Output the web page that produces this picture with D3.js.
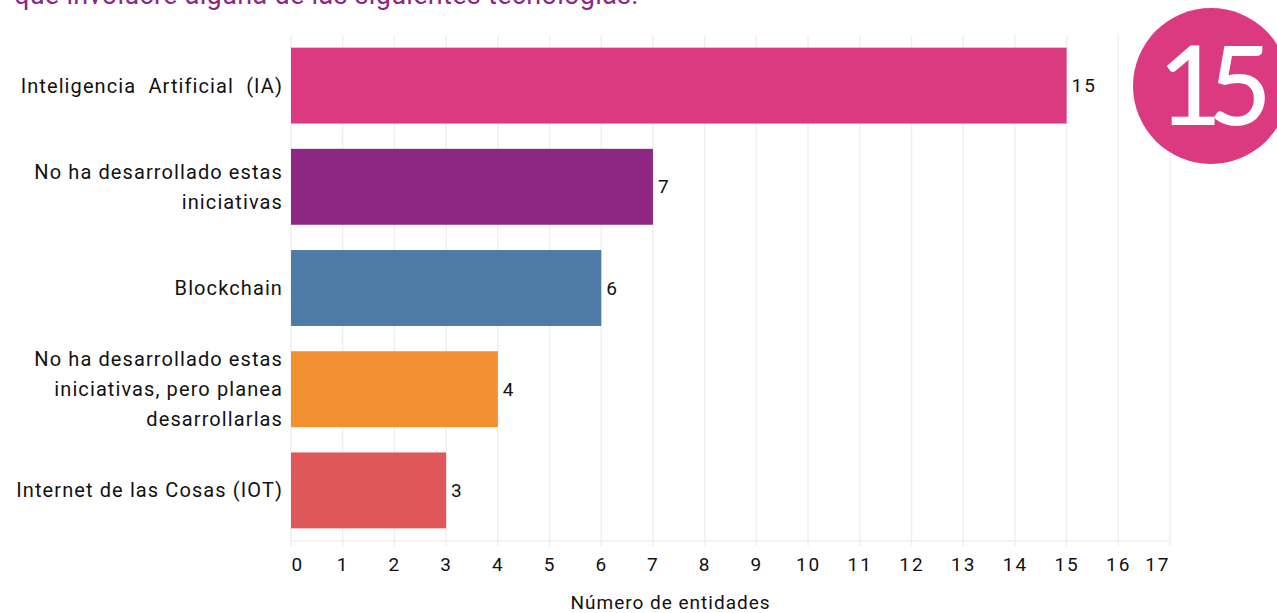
<!DOCTYPE html>
<html>
<head>
<meta charset="utf-8">
<script src="https://cdn.jsdelivr.net/npm/d3@7"></script>
<style>
  body { margin: 0; background: #fff; }
  svg { display: block; font-family: Roboto, "Noto Sans", sans-serif; }
</style>
</head>
<body>
<div id="chart"></div>
<script>
// data
var categories = [
    "Inteligencia  Artificial  (IA)",
    "No ha desarrollado estas\niniciativas",
    "Blockchain",
    "No ha desarrollado estas\niniciativas, pero planea\ndesarrollarlas",
    "Internet de las Cosas (IOT)"
];
var values = [15, 7, 6, 4, 3];
var xTicks = [0, 1, 2, 3, 4, 5, 6, 7, 8, 9, 10, 11, 12, 13, 14, 15, 16, 17];
var titleText = "que involucre alguna de las siguientes tecnologías.";
var badgeText = "15";
var xTitle = "Número de entidades";

var W = 1277, H = 613;
var margin = {top: 35, right: 107, bottom: 72, left: 291},
    width = W - margin.left - margin.right,
    height = H - margin.top - margin.bottom;

var svg = d3.select("#chart").append("svg")
    .attr("width", W)
    .attr("height", H);

// cut-off title at the top
svg.append("text")
    .attr("x", 14)
    .attr("y", 4)
    .style("font-family", "Roboto, sans-serif")
    .style("font-size", "27px")
    .style("letter-spacing", "0.3px")
    .style("fill", "#8e2683")
    .text(titleText);

var g = svg.append("g")
    .attr("transform", "translate(" + margin.left + "," + margin.top + ")");

var x = d3.scaleLinear().domain([0, 17]).range([0, width]);
var y = d3.scaleBand().domain(categories).range([0, height])
    .paddingInner(0.25).paddingOuter(0.125);
var color = d3.scaleOrdinal().domain(categories)
    .range(["#db3a80", "#8e2683", "#4e7aa8", "#f28f31", "#e0575a"]);

// gridlines
g.selectAll("line.grid")
    .data(xTicks)
    .enter().append("line")
    .attr("class", "grid")
    .attr("x1", function (d) { return x(d); })
    .attr("x2", function (d) { return x(d); })
    .attr("y1", 0)
    .attr("y2", height + 5)
    .style("stroke", "#efefef")
    .style("stroke-width", 1.5);

g.append("line")
    .attr("x1", 0).attr("x2", width)
    .attr("y1", height).attr("y2", height)
    .style("stroke", "#efefef")
    .style("stroke-width", 1.5);

// bars
g.selectAll("rect.bar")
    .data(values)
    .enter().append("rect")
    .attr("class", "bar")
    .attr("x", 0)
    .attr("y", function (d, i) { return y(categories[i]); })
    .attr("width", function (d) { return x(d); })
    .attr("height", y.bandwidth())
    .style("fill", function (d, i) { return color(categories[i]); });

// value labels
g.selectAll("text.val")
    .data(values)
    .enter().append("text")
    .attr("class", "val")
    .attr("x", function (d) { return x(d) + 5; })
    .attr("y", function (d, i) { return y(categories[i]) + y.bandwidth() / 2; })
    .attr("dy", "0.35em")
    .style("font-size", "19px")
    .style("letter-spacing", "2px")
    .style("fill", "#111")
    .text(function (d) { return d; });

// category labels (multi-line)
var lineH = 30;
categories.forEach(function (c) {
    var lines = c.split("\n");
    var cy = y(c) + y.bandwidth() / 2;
    var t = g.append("text")
        .attr("x", -8)
        .attr("text-anchor", "end")
        .attr("xml:space", "preserve")
        .style("font-size", "20px")
        .style("letter-spacing", "1.1px")
        .style("fill", "#111");
    lines.forEach(function (l, k) {
        t.append("tspan")
            .attr("x", -8)
            .attr("y", cy + (k - (lines.length - 1) / 2) * lineH)
            .attr("dy", "0.35em")
            .text(l);
    });
});

// x axis labels
var xAxis = g.append("g")
    .attr("transform", "translate(0," + height + ")")
    .call(d3.axisBottom(x).tickValues(xTicks).tickSize(0).tickPadding(17).tickFormat(d3.format("d")));
xAxis.select(".domain").remove();
xAxis.selectAll("text")
    .style("font-size", "19px")
    .style("letter-spacing", "2px")
    .style("font-family", "Roboto, sans-serif")
    .style("fill", "#111")
    .attr("text-anchor", function (d, i) {
        return i === 0 ? "start" : (i === xTicks.length - 1 ? "end" : "middle");
    });

g.append("text")
    .attr("x", width / 2 - 60)
    .attr("y", height + 68)
    .attr("text-anchor", "middle")
    .style("font-size", "19px")
    .style("letter-spacing", "1px")
    .style("fill", "#111")
    .text(xTitle);

// badge circle, clipped at the right edge
svg.append("circle")
    .attr("cx", 1211)
    .attr("cy", 86)
    .attr("r", 78)
    .style("fill", "#db3a80");
svg.append("text")
    .attr("x", 1208)
    .attr("y", 125)
    .attr("text-anchor", "middle")
    .style("font-family", "Lato, sans-serif")
    .style("font-weight", "500")
    .style("font-size", "110px")
    .style("letter-spacing", "-14px")
    .style("fill", "#fff")
    .text(badgeText);
</script>
</body>
</html>
